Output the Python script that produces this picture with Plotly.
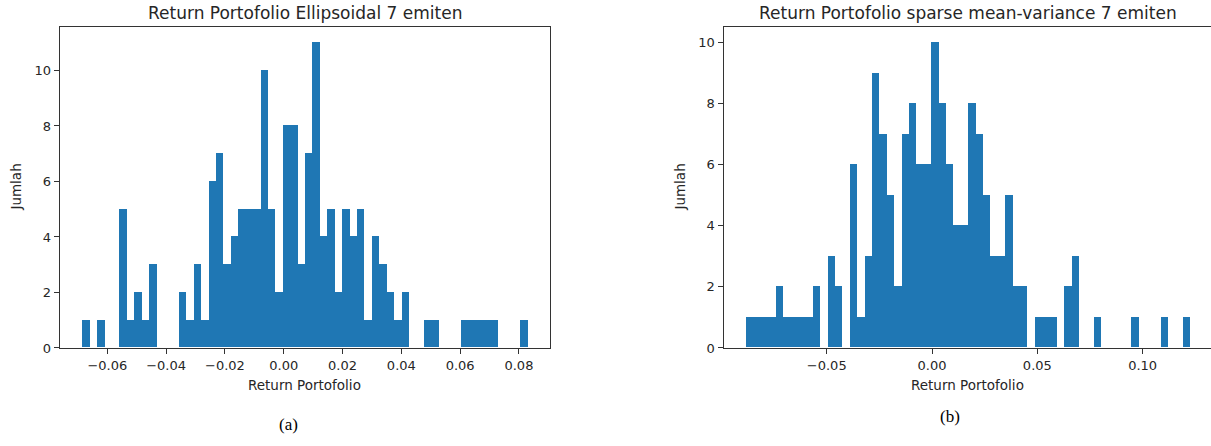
import numpy as np
import plotly.graph_objects as go

# ---------------- data ----------------
# (a) Ellipsoidal portfolio: 60-bin histogram
ell_range = [-0.0686, 0.0829]          # min / max of the returns (histogram span)
ell_counts = [1, 0, 1, 0, 0, 5, 1, 2, 1, 3,
              0, 0, 0, 2, 1, 3, 1, 6, 7, 3,
              4, 5, 5, 5, 10, 5, 2, 8, 8, 3,
              7, 11, 4, 5, 2, 5, 4, 5, 1, 4,
              3, 2, 1, 2, 0, 0, 1, 1, 0, 0,
              0, 1, 1, 1, 1, 1, 0, 0, 0, 1]

# (b) Sparse mean-variance portfolio: 60-bin histogram
smv_range = [-0.0885, 0.1224]
smv_counts = [1, 1, 1, 1, 2, 1, 1, 1, 1, 2,
              0, 3, 2, 0, 6, 1, 3, 9, 7, 5,
              2, 7, 8, 6, 6, 10, 8, 6, 4, 4,
              8, 7, 5, 3, 3, 5, 2, 2, 0, 1,
              1, 1, 0, 2, 3, 0, 0, 1, 0, 0,
              0, 0, 1, 0, 0, 0, 1, 0, 0, 1]

titles = ["Return Portofolio Ellipsoidal 7 emiten",
          "Return Portofolio sparse mean-variance 7 emiten"]
x_label = "Return Portofolio"
y_label = "Jumlah"
captions = ["(a)", "(b)"]

# ---------------- figure ----------------
W, H = 1211, 446
BAR = "#1f77b4"
AX = "#333333"
TXT = "#262626"
FONT = "DejaVu Sans"


def bins(rng, counts):
    edges = np.linspace(rng[0], rng[1], len(counts) + 1)
    centers = (edges[:-1] + edges[1:]) / 2
    return centers, edges[1] - edges[0]


fig = go.Figure()
for i, (rng, cnt) in enumerate([(ell_range, ell_counts), (smv_range, smv_counts)]):
    c, w = bins(rng, cnt)
    fig.add_trace(go.Bar(x=c, y=cnt, width=w, marker=dict(color=BAR, line=dict(width=0)),
                         xaxis="x" if i == 0 else "x2", yaxis="y" if i == 0 else "y2",
                         showlegend=False, hoverinfo="x+y"))

px = lambda v: v / W
py = lambda v: 1 - v / H

ydom = [py(354.3), py(28.0)]
common_ax = dict(showline=True, linecolor=AX, linewidth=1, ticks="outside", ticklen=5,
                 tickwidth=1, tickcolor=AX, showgrid=False, zeroline=False,
                 tickfont=dict(family=FONT, size=13, color=TXT))

fig.update_layout(
    width=W, height=H, margin=dict(l=0, r=0, t=0, b=0),
    paper_bgcolor="white", plot_bgcolor="white", bargap=0,
    xaxis=dict(domain=[px(59.7), px(549.8)], range=[-0.0762, 0.0905], dtick=0.02, tick0=0,
               tickformat=".2f", mirror=True, anchor="y", **common_ax),
    yaxis=dict(domain=ydom, range=[0, 11.55], dtick=2, tick0=0, mirror=True, anchor="x",
               **common_ax),
    xaxis2=dict(domain=[px(723.5), 1.0], range=[-0.09902, 0.13246], dtick=0.05, tick0=0,
                tickformat=".2f", mirror=True, anchor="y2", **common_ax),
    yaxis2=dict(domain=ydom, range=[0, 10.5], dtick=2, tick0=0, mirror=False, anchor="x2",
                **common_ax),
)

ann = []
centers_x = [(59.7 + 549.8) / 2, (723.5 + 1212) / 2]
for i in range(2):
    ann.append(dict(text=titles[i], x=px(centers_x[i]), y=py(13), xref="paper", yref="paper",
                    xanchor="center", yanchor="middle", showarrow=False,
                    font=dict(family=FONT, size=17, color=TXT)))
    ann.append(dict(text=x_label, x=px(centers_x[i]), y=py(392), xref="paper", yref="paper",
                    xanchor="center", yanchor="middle", showarrow=False,
                    font=dict(family=FONT, size=13.5, color=TXT)))
ann.append(dict(text=y_label, x=px(16), y=py(191), xref="paper", yref="paper", textangle=-90,
                xanchor="center", yanchor="middle", showarrow=False,
                font=dict(family=FONT, size=13.5, color=TXT)))
ann.append(dict(text=y_label, x=px(680), y=py(191), xref="paper", yref="paper", textangle=-90,
                xanchor="center", yanchor="middle", showarrow=False,
                font=dict(family=FONT, size=13.5, color=TXT)))
ann.append(dict(text=captions[0], x=px(288), y=py(432), xref="paper", yref="paper",
                xanchor="center", yanchor="middle", showarrow=False,
                font=dict(family="Liberation Serif", size=17, color="black")))
ann.append(dict(text=captions[1], x=px(950), y=py(424), xref="paper", yref="paper",
                xanchor="center", yanchor="middle", showarrow=False,
                font=dict(family="Liberation Serif", size=17, color="black")))
fig.update_layout(annotations=ann)

fig.write_html("out.html")
